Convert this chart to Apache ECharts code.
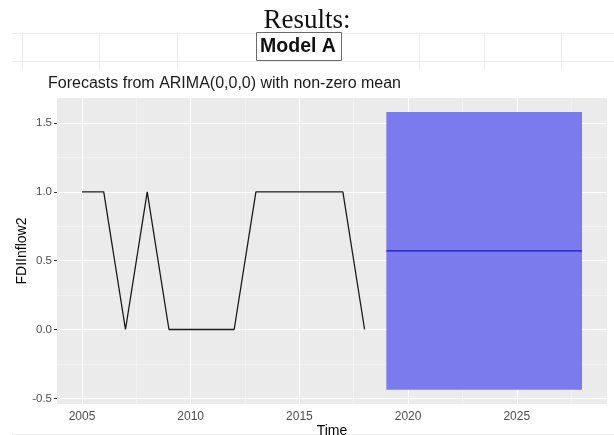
<!DOCTYPE html>
<html>
<head>
<meta charset="utf-8">
<script src="https://cdn.jsdelivr.net/npm/echarts@6/dist/echarts.min.js"></script>
<style>
  html, body { margin: 0; padding: 0; background: #ffffff; }
  #chart { width: 614px; height: 435px; }
</style>
</head>
<body>
<div id="chart"></div>
<script>
// Observed series (annual)
const years = [2005, 2006, 2007, 2008, 2009, 2010, 2011, 2012, 2013, 2014, 2015, 2016, 2017, 2018];
const fdiInflow = [1, 1, 0, 1, 0, 0, 0, 0, 1, 1, 1, 1, 1, 0];

// Forecast horizon: point forecast and 95% interval
const fcYears = [2019, 2020, 2021, 2022, 2023, 2024, 2025, 2026, 2027, 2028];
const fcMean  = [0.571, 0.571, 0.571, 0.571, 0.571, 0.571, 0.571, 0.571, 0.571, 0.571];
const fcLower = [-0.437, -0.437, -0.437, -0.437, -0.437, -0.437, -0.437, -0.437, -0.437, -0.437];
const fcUpper = [1.579, 1.579, 1.579, 1.579, 1.579, 1.579, 1.579, 1.579, 1.579, 1.579];

// Axis ticks and grid breaks
const xTicks = [2005, 2010, 2015, 2020, 2025];
const xMinor = [2007.5, 2012.5, 2017.5, 2022.5, 2027.5];
const yTicks = [-0.5, 0, 0.5, 1, 1.5];
const yMinor = [-0.25, 0.25, 0.75, 1.25];

// Text
const pageHeading = 'Results:';
const modelLabel = 'Model A';
const plotTitle = 'Forecasts from ARIMA(0,0,0) with non-zero mean';
const xTitle = 'Time';
const yTitle = 'FDIInflow2';

const chart = echarts.init(document.getElementById('chart'), null, { renderer: 'canvas' });

const sans = "'Liberation Sans', Arial, sans-serif";
const faint = '#ececec';

function hLine(y, x1, x2) {
  return { type: 'line', silent: true, shape: { x1: x1, y1: y, x2: x2, y2: y },
           style: { stroke: faint, lineWidth: 1 } };
}
function vLine(x, y1, y2) {
  return { type: 'line', silent: true, shape: { x1: x, y1: y1, x2: x, y2: y2 },
           style: { stroke: faint, lineWidth: 1 } };
}

const graphics = [
  // light table rules of the surrounding document
  hLine(33.5, 12, 614), hLine(61.5, 12, 614), hLine(434.5, 12, 614),
  vLine(22.5, 33, 70), vLine(99.5, 33, 70), vLine(177.5, 33, 70),
  vLine(419.5, 33, 70), vLine(484.5, 33, 70), vLine(561.5, 33, 70),
  {
    type: 'text', left: 'center', top: 7,
    style: { text: pageHeading, font: "27px 'Liberation Serif', 'Times New Roman', serif", fill: '#111' }
  },
  {
    type: 'rect', shape: { x: 256.5, y: 32.5, width: 85, height: 28 },
    style: { fill: '#ffffff', stroke: '#6a6a6a', lineWidth: 1 }
  },
  {
    type: 'text', x: 298, y: 47,
    style: { text: modelLabel, font: "bold 19.5px " + sans, fill: '#111', align: 'center', verticalAlign: 'middle' }
  },
  {
    type: 'text', x: 48, y: 84,
    style: { text: plotTitle, font: "16px " + sans, fill: '#1a1a1a', align: 'left', verticalAlign: 'middle' }
  },
  // axis titles
  {
    type: 'text', x: 332, y: 431,
    style: { text: xTitle, font: "14px " + sans, fill: '#000', align: 'center', verticalAlign: 'middle' }
  },
  {
    type: 'text', x: 22, y: 251, rotation: Math.PI / 2,
    style: { text: yTitle, font: "14px " + sans, fill: '#000', align: 'center', verticalAlign: 'middle' }
  }
];

const majorLine = { color: '#ffffff', width: 1.1, type: 'solid' };
const minorLine = { color: '#f6f6f6', width: 0.6, type: 'solid' };

const option = {
  animation: false,
  backgroundColor: '#ffffff',
  graphic: graphics,
  grid: {
    left: 57, right: 7, top: 98, bottom: 31,
    containLabel: false, outerBoundsMode: 'none',
    show: true, backgroundColor: '#EBEBEB', borderWidth: 0
  },
  xAxis: {
    type: 'value', min: 2003.85, max: 2029.15,
    axisLine: { show: false },
    axisTick: { show: true, customValues: xTicks, length: 3, lineStyle: { color: '#333', width: 1 } },
    axisLabel: {
      customValues: xTicks, color: '#4D4D4D', fontFamily: sans, fontSize: 12, margin: 7,
      formatter: v => String(v)
    },
    splitLine: { show: false }
  },
  yAxis: {
    type: 'value', min: -0.541, max: 1.681,
    axisLine: { show: false },
    axisTick: { show: true, customValues: yTicks, length: 3, lineStyle: { color: '#333', width: 1 } },
    axisLabel: {
      customValues: yTicks, color: '#4D4D4D', fontFamily: sans, fontSize: 11.5, margin: 5,
      formatter: v => v.toFixed(1)
    },
    splitLine: { show: false }
  },
  series: [
    {
      // panel grid: minor then major breaks
      name: 'grid', type: 'line', data: [], z: 1, silent: true,
      markLine: {
        z: 1, silent: true, symbol: 'none', label: { show: false }, animation: false,
        data: [
          ...xMinor.map(v => ({ xAxis: v, lineStyle: minorLine })),
          ...yMinor.map(v => ({ yAxis: v, lineStyle: minorLine })),
          ...xTicks.map(v => ({ xAxis: v, lineStyle: majorLine })),
          ...yTicks.map(v => ({ yAxis: v, lineStyle: majorLine }))
        ]
      }
    },
    {
      // 95% prediction interval
      name: 'interval', type: 'custom', z: 3, silent: true,
      data: fcYears.map((y, i) => [y, fcLower[i], fcUpper[i]]),
      renderItem: function (params, api) {
        if (params.dataIndex !== 0) return null;
        const upper = fcYears.map((y, i) => api.coord([y, fcUpper[i]]));
        const lower = fcYears.map((y, i) => api.coord([y, fcLower[i]])).reverse();
        return {
          type: 'polygon',
          shape: { points: upper.concat(lower) },
          style: { fill: '#7B7BEE', stroke: null }
        };
      }
    },
    {
      name: 'observed', type: 'line', z: 4, silent: true,
      data: years.map((y, i) => [y, fdiInflow[i]]),
      showSymbol: false, symbol: 'none',
      lineStyle: { color: '#1a1a1a', width: 1.3 }
    },
    {
      name: 'forecast', type: 'line', z: 5, silent: true,
      data: fcYears.map((y, i) => [y, fcMean[i]]),
      showSymbol: false, symbol: 'none',
      lineStyle: { color: '#1818c8', width: 1.1 }
    }
  ]
};

chart.setOption(option);
</script>
</body>
</html>
